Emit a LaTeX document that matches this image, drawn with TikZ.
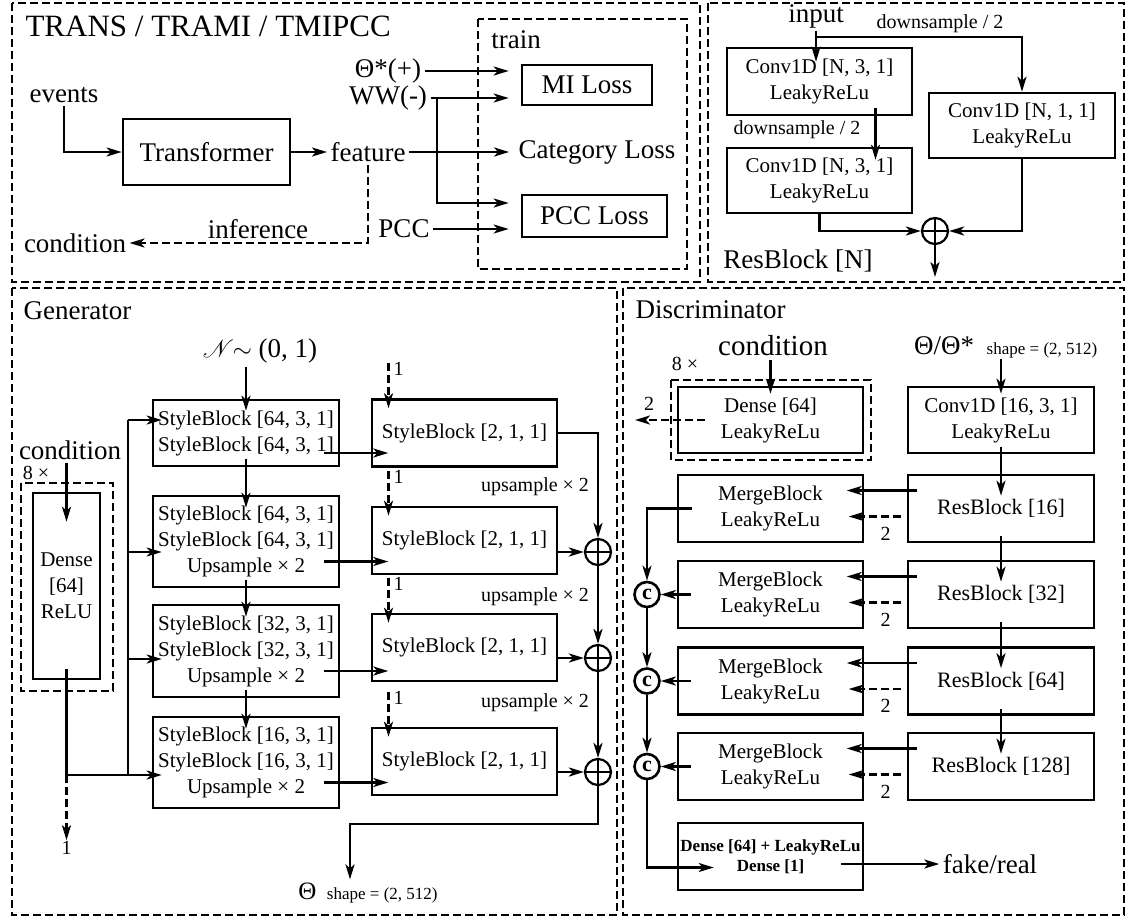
\documentclass[tikz,border=0pt]{standalone}
\usepackage{fontspec}
\setmainfont{Liberation Serif}
\usepackage{mathrsfs}
\usetikzlibrary{arrows.meta}
\newcommand{\fsz}[2]{\fontsize{#1}{#2}\selectfont}

\begin{document}
\begin{tikzpicture}[x=1pt,y=-1pt,font=\fsz{27}{30},
  blk/.style={draw,line width=2.6pt,align=center,inner sep=0pt,font=\fsz{21}{26}},
  arr/.style={line width=2.4pt,-{Stealth[length=15pt,width=9pt,inset=4pt]}},
  dasharr/.style={arr,dash pattern=on 8pt off 4pt},
  ln/.style={line width=2.4pt},
  frame/.style={line width=2.2pt,dash pattern=on 8pt off 4pt},
  deep/.style={shorten <=-8pt,shorten >=-13pt},
  resdeep/.style={shorten <=-7pt,shorten >=-22pt},
  lbl/.style={inner sep=1pt,font=\fsz{20}{22}},
  addnode/.style={circle,draw,line width=2.2pt,minimum size=26pt,inner sep=0pt,
    path picture={\draw[line width=2pt]
      (path picture bounding box.north) -- (path picture bounding box.south)
      (path picture bounding box.west) -- (path picture bounding box.east);}},
  catnode/.style={circle,draw,line width=2.6pt,minimum size=25pt,inner sep=0pt,
    font=\bfseries\fsz{22}{22}}]
\useasboundingbox (0,0) rectangle (1127,919);

% ---- encoder: TRANS / TRAMI / TMIPCC
\draw[frame] (12,3) rectangle (700,282);
\node[anchor=west,font=\fsz{31}{34}] (ttl) at (22,26) {TRANS / TRAMI / TMIPCC};
\node (events) at (64,95) {events};
\node[blk,font=\fsz{27}{30},minimum width=167pt,minimum height=66pt] (tfm) at (206.5,152) {Transformer};
\node (feature) at (368,152) {feature};
\node (cond) at (75,243) {condition};
\node (infer) at (258,229) {inference};
\node (thp) at (388,71) {Θ*(+)};
\node (ww) at (388,98) {WW(-)};
\node (pcc) at (404,229) {PCC};
\draw[frame] (478,19) rectangle (687,269);
\node (train) at (516,40) {train};
\node[blk,font=\fsz{27}{30},minimum width=130pt,minimum height=40pt] (mil) at (587,85) {MI Loss};
\node (catl) at (597,152) {Category Loss};
\node[blk,font=\fsz{27}{30},minimum width=145pt,minimum height=42pt] (pccl) at (594.5,216) {PCC Loss};

\draw[arr] (events.south) |- (tfm.west);
\draw[arr] (tfm.east) -- (feature.west);
\draw[dasharr] (feature.south) |- (cond.east);
\coordinate (wwj) at (437,98);
\draw[arr,shorten >=12pt] (thp.east) -- (thp.east -| mil.west);
\draw[arr,shorten >=12pt] (ww.east) -- (ww.east -| mil.west);
\draw[arr,shorten >=12pt] (wwj) |- ([yshift=13pt]pccl.west);
\draw[arr,shorten >=6pt] (feature.east) -- (catl.west);
\draw[arr,shorten >=12pt] (pcc.east) -- (pcc.east -| pccl.west);

% ---- ResBlock [N]
\draw[frame] (708,3) rectangle (1124,282);
\node (inp) at (816,16) {input};
\node[lbl] (dsa) at (940,24) {downsample / 2};
\node[blk,minimum width=185pt,minimum height=67pt] (ca) at (819.5,81.5) {Conv1D [N, 3, 1]\\LeakyReLu};
\node[blk,minimum width=185pt,minimum height=65pt] (cb) at (819.5,180.5) {Conv1D [N, 3, 1]\\LeakyReLu};
\node[blk,minimum width=186pt,minimum height=65pt] (cc) at (1022,125.5) {Conv1D [N, 1, 1]\\LeakyReLu};
\node[lbl] (dsb) at (797,130) {downsample / 2};
\node[addnode] (radd) at (935,231) {};
\node (rbt) at (798,261) {ResBlock [N]};
\coordinate (tap) at (inp.south |- 0,37);
\coordinate (rout) at (935,277);

\draw[arr,shorten >=-15pt] (inp.south) -- (inp.south |- ca.north);
\draw[arr] (tap) -| (cc.north);
\draw[arr,deep] ([xshift=56pt]ca.south) -- ([xshift=56pt]cb.north);
\draw[arr] (cb.south) |- (radd.west);
\draw[arr] (cc.south) |- (radd.east);
\draw[arr] (radd.south) -- (rout);

% ---- Generator
\draw[frame] (12,288) rectangle (617,915);
\node[anchor=west] (gtl) at (20,311) {Generator};
\node (noise) at (260,351) {$\mathscr{N}\!\!\sim$ (0, 1)};
\node[blk,minimum width=186pt,minimum height=66pt] (sba) at (246,433) {StyleBlock [64, 3, 1]\\StyleBlock [64, 3, 1]};
\node[blk,minimum width=186pt,minimum height=91pt] (sbb) at (246,541.5) {StyleBlock [64, 3, 1]\\StyleBlock [64, 3, 1]\\Upsample × 2};
\node[blk,minimum width=186pt,minimum height=92pt] (sbc) at (246,651) {StyleBlock [32, 3, 1]\\StyleBlock [32, 3, 1]\\Upsample × 2};
\node[blk,minimum width=186pt,minimum height=91pt] (sbd) at (246,762.5) {StyleBlock [16, 3, 1]\\StyleBlock [16, 3, 1]\\Upsample × 2};

\node (gcond) at (70,450) {condition};
\node[lbl] (geight) at (36,473) {8 ×};
\draw[frame] (21,483) rectangle (113,691);
\node[blk,minimum width=67pt,minimum height=186pt] (gdense) at (66.5,586) {Dense\\{[64]}\\ReLU};
\node[lbl] (gone) at (66.5,848) {1};

\draw[arr,shorten >=-12pt] (sba.north |- noise.south) -- (sba.north);
\foreach \a/\b in {sba/sbb,sbb/sbc,sbc/sbd}
  \draw[arr,deep] (\a.south) -- (\b.north);
\draw[arr,shorten >=-30pt] (gdense.north |- gcond.south) -- (gdense.north);

% condition fan-out to every style stage
\coordinate (gj) at (gdense.south |- 0,775);
\foreach \n/\y in {a/420,b/552,c/659,d/775}
  \coordinate (bus\n) at (128,\y);
\draw[ln] ([yshift=11pt]gdense.south) -- (gj) -- (busd) -- (busa);
\foreach \n in {a,b,c,d}
  \draw[arr,shorten >=-10pt] (bus\n) -- (bus\n -| sb\n.west);
\draw[dasharr] (gj) -- (gone.north);

% to-signal branch
\foreach \n/\y in {a/433,b/540.5,c/647.5,d/761.5}{
  \node[blk,minimum width=185pt,minimum height=67pt] (sm\n) at (464.5,\y) {StyleBlock [2, 1, 1]};
  \draw[dasharr] ([xshift=-76pt,yshift=35pt]sm\n.north) -- ([xshift=-76pt,yshift=-10pt]sm\n.north);
  \node[lbl,anchor=west] (one\n) at ([xshift=-72pt,yshift=29pt]sm\n.north) {1};
  \draw[arr] ([xshift=-16pt,yshift=-20pt]sb\n.east) -- ++(64,0);}

\node[addnode] (gpa) at (598,552) {};
\node[addnode] (gpb) at (598,658) {};
\node[addnode] (gpc) at (598,772) {};
\foreach \n/\y in {a/487,b/597,c/703}
  \node[lbl] (ups\n) at (535,\y) {upsample × 2};
\draw[arr] (sma.east) -| (gpa.north);
\draw[arr] (smb.east |- gpa) -- (gpa.west);
\draw[arr] (smc.east |- gpb) -- (gpb.west);
\draw[arr] (smd.east |- gpc) -- (gpc.west);
\draw[arr] (gpa) -- (gpb);
\draw[arr] (gpb) -- (gpc);

\node[font=\fsz{25}{27}] (gout) at (368,893) {Θ {\fsz{17}{20} shape = (2, 512)}};
\coordinate (gturn) at (350,824);
\draw[arr] (gpc.south) |- (gturn) -- (gturn |- gout.north);

% ---- Discriminator
\draw[frame] (623,288) rectangle (1124,915);
\node[anchor=west] (dtl) at (632,310) {Discriminator};
\node[font=\fsz{29}{32}] (dcond) at (773,346) {condition};
\node[lbl] (deight) at (685,364) {8 ×};
\draw[frame] (671,380) rectangle (871,460);
\node[blk,minimum width=185pt,minimum height=66pt] (ddense) at (770.5,420) {Dense [64]\\LeakyReLu};
\coordinate (dleft) at (635,420);
\node[lbl] (dtwo) at (649,404) {2};
\draw[arr,shorten >=-8pt] (ddense.north |- dcond.south) -- (ddense.north);
\draw[dasharr] ([xshift=28pt]ddense.west) -- (dleft);

\node (dth) at (944,346) {Θ/Θ*};
\node[font=\fsz{17}{20}] (dshape) at (1042,350) {shape = (2, 512)};
\node[blk,minimum width=186pt,minimum height=66pt] (conv) at (1001,420) {Conv1D [16, 3, 1]\\LeakyReLu};
\draw[arr,shorten >=-8pt] (conv.north |- dth.south) -- (conv.north);

\foreach \n/\y/\c in {a/508.5/16,b/594.5/32,c/681/64,d/766.5/128}{
  \node[blk,minimum width=186pt,minimum height=67pt,font=\fsz{22}{26}] (res\n) at (1001,\y) {ResBlock [\c]};
  \node[blk,minimum width=185pt,minimum height=67pt] (mrg\n) at (770.5,\y) {MergeBlock\\LeakyReLu};
  \draw[arr] ([xshift=10pt,yshift=18pt]res\n.west) -- ++(-70,0);
  \draw[dasharr] ([xshift=-6pt,yshift=-8pt]res\n.west) -- ++(-52,0);
  \node[lbl] (two\n) at ([xshift=-21pt,yshift=-25pt]res\n.west) {2};}
\foreach \a/\b in {conv/resa,resa/resb,resb/resc,resc/resd}
  \draw[arr,resdeep] (\a.south) -- (\b.north);

\node[catnode] (cata) at (647,594.5) {c};
\node[catnode] (catb) at (647,681) {c};
\node[catnode] (catc) at (647,766.5) {c};
\draw[arr] ([xshift=15pt]mrga.west) -| (cata.north);
\draw[arr] ([xshift=14pt]mrgb.west) -- (cata.east);
\draw[arr] ([xshift=14pt]mrgc.west) -- (catb.east);
\draw[arr] ([xshift=14pt]mrgd.west) -- (catc.east);
\draw[arr] (cata) -- (catb);
\draw[arr] (catb) -- (catc);

\node[blk,minimum width=185pt,minimum height=67pt,font=\bfseries\fsz{17}{20}] (dfin) at (770.5,856.5) {Dense [64] + LeakyReLu\\Dense [1]};
\node (fake) at (990,864) {fake/real};
\draw[arr] (catc.south) |- ([xshift=37pt,yshift=-11pt]dfin.west);
\draw[arr] ([xshift=-23pt,yshift=-7.5pt]dfin.east) -- (fake.west);
\end{tikzpicture}
\end{document}
